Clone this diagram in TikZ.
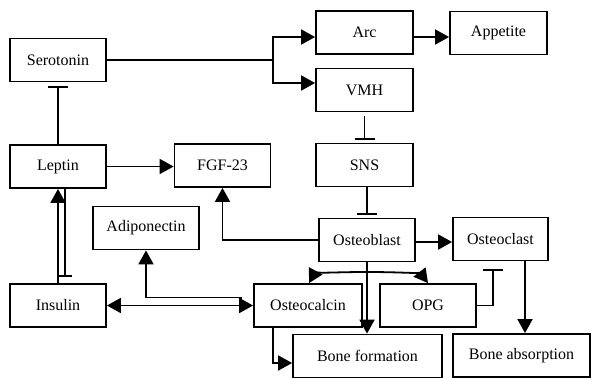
\documentclass[tikz,border=0pt]{standalone}
\usepackage{fontspec}
\setmainfont{Liberation Serif}
\usetikzlibrary{arrows.meta}

\begin{document}
\begin{tikzpicture}[x=1pt,y=-1pt, line width=1.8pt,
  box/.style={draw, rectangle, line width=1.8pt, minimum width=96pt, minimum height=43pt, inner sep=0pt, font=\fontsize{16}{18}\selectfont},
  act/.style={-{Triangle[length=14pt,width=15pt]}},
  both/.style={{Triangle[length=14pt,width=15pt]}-{Triangle[length=14pt,width=15pt]}},
  inh/.style={-{Bar[width=20pt]}}]
\useasboundingbox (0,0) rectangle (593,378);
\node[box] (sero) at (58,60) {Serotonin};
\node[box] (lep) at (58,166.5) {Leptin};
\node[box] (fgf) at (222.5,165.5) {FGF-23};
\node[box, minimum width=97pt] (arc) at (364.5,32.5) {Arc};
\node[box, minimum width=97pt] (app) at (498.5,33) {Appetite};
\node[box, minimum width=97pt] (vmh) at (364.5,90) {VMH};
\node[box, minimum width=97pt] (sns) at (364.5,165) {SNS};
\node[box, minimum width=106pt] (adipo) at (146,228) {Adiponectin};
\node[box] (oblast) at (367,240) {Osteoblast};
\node[box, minimum width=95pt] (oclast) at (500.5,239) {Osteoclast};
\node[box] (ins) at (58,305.5) {Insulin};
\node[box, minimum width=108pt] (ocalc) at (308,305.5) {Osteocalcin};
\node[box] (opg) at (428,305.5) {OPG};
\node[box, minimum width=149pt] (bform) at (367.5,356) {Bone formation};
\node[box, minimum width=137pt] (babs) at (521.5,355.5) {Bone absorption};
% hypothalamus
\coordinate (split) at (273,60);
\draw (sero.east) -- (split);
\draw[act] (split) |- ([yshift=-4.5pt]arc.west);
\draw[act] (split) |- ([yshift=7pt]vmh.west);
\draw[act] ([yshift=-4.5pt]arc.east) -- ([yshift=-4.5pt]arc.east -| app.west);
\draw[inh, shorten <=4pt, shorten >=3pt] (vmh.south) -- (sns.north);
\draw[inh, shorten >=3pt] (oblast.north |- sns.south) -- (oblast.north);
% leptin, insulin
\draw[inh, shorten >=4pt] (lep.north) -- (sero.south);
\draw[act] (lep.east) -- (fgf.west |- lep.east);
\draw[act] (ins.north) -- (lep.south);
\draw[-{Bar[width=14pt]}, shorten >=6pt] ([xshift=7pt]lep.south) -- ([xshift=7pt]ins.north);
\draw[both] (ins.east) -- (ocalc.west |- ins.east);
\draw[act] ([xshift=-12pt]ocalc.west) -- ++(0,-8) -| (adipo.south);
% osteoblast
\draw[act] (oblast.west) -| (fgf.south);
\draw[act] ([yshift=-2pt]oblast.east) -- ([yshift=-2pt]oblast.east -| oclast.west);
\draw[act] (oblast.south) -- (bform.north -| oblast.south);
\coordinate (fork) at (367,272);
\draw[act] (fork) .. controls (330,272) and (314,274) .. ([xshift=1pt]ocalc.north);
\draw[act] (fork) .. controls (404,272) and (421,274) .. (ocalc.north -| opg.north);
\draw[inh, shorten >=8pt] (opg.east) -| ([xshift=-7.5pt]oclast.south);
\draw[act] ([xshift=24.5pt]oclast.south) -- ([xshift=24.5pt]oclast.south |- babs.north);
\draw[act] ([xshift=-35pt]ocalc.south) |- ([yshift=-7pt]bform.west);
\end{tikzpicture}
\end{document}
